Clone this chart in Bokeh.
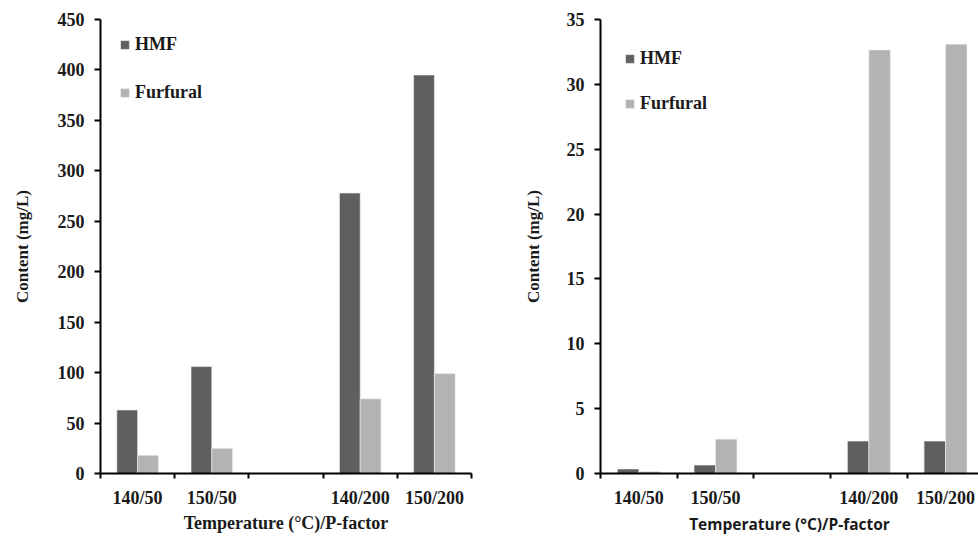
from bokeh.plotting import figure
from bokeh.layouts import row
from bokeh.models import (ColumnDataSource, FixedTicker, Legend, LegendItem, Range1d)
from bokeh.embed import file_html
from bokeh.resources import INLINE

# ---- data ----
categories = ["140/50", "150/50", "", "140/200", "150/200"]
left_hmf = [63, 106, None, 278, 395]
left_furfural = [18, 25, None, 74, 99]
right_hmf = [0.35, 0.65, None, 2.5, 2.5]
right_furfural = [0.15, 2.65, None, 32.65, 33.1]
left_yticks = [0, 50, 100, 150, 200, 250, 300, 350, 400, 450]
right_yticks = [0, 5, 10, 15, 20, 25, 30, 35]

HMF_COLOR = "#5f5f5f"
FUR_COLOR = "#b3b3b3"
SERIF = "Liberation Serif"
SANS = "Open Sans"
BAR_W = 0.28


def make_panel(hmf, fur, yticks, x_end, width, height, border_left, border_right,
               border_top, border_bottom, legend_loc, legend_spacing, xtitle_font,
               xtitle_size, ytitle_standoff):
    p = figure(width=width, height=height, output_backend="svg", toolbar_location=None,
               x_range=Range1d(0, x_end), y_range=Range1d(yticks[0], yticks[-1]),
               min_border_left=border_left, min_border_right=border_right,
               min_border_top=border_top, min_border_bottom=border_bottom)
    p.outline_line_color = None
    p.xgrid.visible = False
    p.ygrid.visible = False

    idx = [i for i, c in enumerate(categories) if c]
    centers = [i + 0.5 for i in idx]
    src = ColumnDataSource(dict(
        xh=[c - BAR_W / 2 for c in centers],
        xf=[c + BAR_W / 2 for c in centers],
        h=[hmf[i] for i in idx],
        f=[fur[i] for i in idx],
    ))
    r1 = p.vbar(x="xh", top="h", width=BAR_W, source=src, fill_color=HMF_COLOR,
                line_color="#f0f0f0", line_width=0.6)
    r2 = p.vbar(x="xf", top="f", width=BAR_W, source=src, fill_color=FUR_COLOR,
                line_color="#f0f0f0", line_width=0.6)

    # x axis
    xa = p.xaxis[0]
    xa.ticker = FixedTicker(ticks=centers, minor_ticks=list(range(len(categories) + 1)))
    xa.major_label_overrides = {c: categories[i] for c, i in zip(centers, idx)}
    xa.major_tick_out = 0
    xa.major_tick_in = 0
    xa.minor_tick_out = 5
    xa.minor_tick_in = 0
    xa.minor_tick_line_color = "black"
    xa.minor_tick_line_width = 2
    xa.axis_line_width = 2
    xa.axis_line_color = "black"
    xa.major_label_text_font = SERIF
    xa.major_label_text_font_style = "bold"
    xa.major_label_text_font_size = "18px"
    xa.major_label_text_color = "#1a1a1a"
    xa.major_label_standoff = 9
    xa.axis_label = "Temperature (°C)/P-factor"
    xa.axis_label_text_font = xtitle_font
    xa.axis_label_text_font_style = "bold"
    xa.axis_label_text_font_size = xtitle_size
    xa.axis_label_text_color = "#1a1a1a"
    xa.axis_label_standoff = 2

    # y axis
    ya = p.yaxis[0]
    ya.ticker = FixedTicker(ticks=yticks, minor_ticks=[])
    ya.major_tick_out = 6
    ya.major_tick_in = 0
    ya.major_tick_line_width = 2
    ya.axis_line_width = 2
    ya.axis_line_color = "black"
    ya.major_label_text_font = SERIF
    ya.major_label_text_font_style = "bold"
    ya.major_label_text_font_size = "18px"
    ya.major_label_text_color = "#1a1a1a"
    ya.major_label_standoff = 10
    ya.axis_label = "Content (mg/L)"
    ya.axis_label_text_font = SERIF
    ya.axis_label_text_font_style = "bold"
    ya.axis_label_text_font_size = "17px"
    ya.axis_label_text_color = "#1a1a1a"
    ya.axis_label_standoff = ytitle_standoff

    legend = Legend(items=[LegendItem(label="HMF", renderers=[r1]),
                           LegendItem(label="Furfural", renderers=[r2])],
                    location=legend_loc, orientation="vertical")
    legend.border_line_color = None
    legend.background_fill_alpha = 0
    legend.padding = 0
    legend.margin = 0
    legend.glyph_width = 11
    legend.glyph_height = 11
    legend.label_height = 16
    legend.label_standoff = 5
    legend.spacing = legend_spacing
    legend.label_text_font = SERIF
    legend.label_text_font_style = "bold"
    legend.label_text_font_size = "18px"
    legend.label_text_color = "#1a1a1a"
    p.add_layout(legend, "center")
    return p


left = make_panel(left_hmf, left_furfural, left_yticks, 5, 490, 537, 100, 19, 19, 64,
                  (19, 370), 27, SERIF, "18px", 23)
right = make_panel(right_hmf, right_furfural, right_yticks, 4.93, 488, 537, 110, 0, 19, 64,
                   (24, 359), 24, SANS, "15.5px", 21)

layout = row(left, right, spacing=0)
open("out.html", "w").write(file_html(layout, INLINE))
